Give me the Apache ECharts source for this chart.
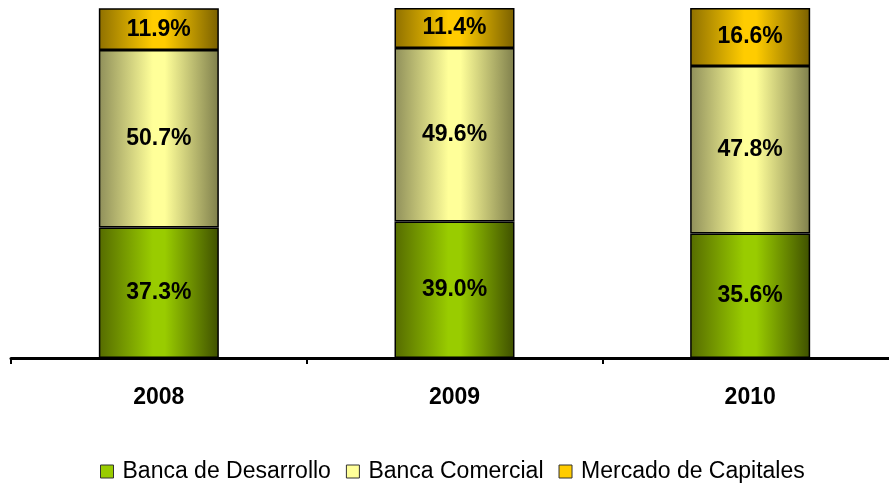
<!DOCTYPE html>
<html>
<head>
<meta charset="utf-8">
<script src="https://cdn.jsdelivr.net/npm/echarts@6/dist/echarts.min.js"></script>
<style>
html, body { margin: 0; padding: 0; background: #fff; overflow: hidden; }
#main { width: 898px; height: 483px; }
</style>
</head>
<body>
<div id="main"></div>
<script>
var years = ['2008', '2009', '2010'];
var desarrollo = [37.3, 39.0, 35.6];
var comercial = [50.7, 49.6, 47.8];
var capitales = [11.9, 11.4, 16.6];

function grad(edgeL, mid, edgeR) {
	return new echarts.graphic.LinearGradient(0, 0, 1, 0, [
		{offset: 0, color: edgeL},
		{offset: 0.45, color: mid},
		{offset: 0.55, color: mid},
		{offset: 1, color: edgeR}
	]);
}

function makeSeries(name, data, color) {
	return {
		name: name,
		type: 'bar',
		stack: 'total',
		barWidth: 120,
		data: data,
		itemStyle: {color: color, borderColor: '#000', borderWidth: 1.5},
		label: {
			show: true,
			position: 'inside',
			formatter: function (p) { return p.value.toFixed(1) + '%'; },
			color: '#000',
			fontFamily: 'Liberation Sans, Arial',
			fontWeight: 'bold',
			fontSize: 23
		}
	};
}

var chart = echarts.init(document.getElementById('main'));

chart.setOption({
	animation: false,
	grid: {left: 11, top: 8, right: 0, bottom: 125},
	legend: {
		left: 95,
		top: 455,
		icon: 'rect',
		itemWidth: 13,
		itemHeight: 13,
		itemGap: 15,
		textStyle: {fontFamily: 'Liberation Sans, Arial', fontSize: 23, color: '#000', padding: [0, 0, 0, 4]},
		data: [
			{name: 'Banca de Desarrollo', itemStyle: {color: '#99cc00', borderColor: '#333', borderWidth: 1}},
			{name: 'Banca Comercial', itemStyle: {color: '#ffff99', borderColor: '#333', borderWidth: 1}},
			{name: 'Mercado de Capitales', itemStyle: {color: '#ffcc00', borderColor: '#333', borderWidth: 1}}
		]
	},
	xAxis: {
		type: 'category',
		data: years,
		axisLine: {lineStyle: {color: '#000', width: 3}},
		axisTick: {show: true, length: 6, lineStyle: {color: '#000', width: 2}},
		axisLabel: {
			margin: 28,
			color: '#000',
			fontFamily: 'Liberation Sans, Arial',
			fontWeight: 'bold',
			fontSize: 23
		}
	},
	yAxis: {
		type: 'value',
		min: 0,
		max: 100,
		show: false,
		splitLine: {show: false}
	},
	series: [
		makeSeries('Banca de Desarrollo', desarrollo, grad('#556b00', '#99cc00', '#3f5000')),
		makeSeries('Banca Comercial', comercial, grad('#8f8f5a', '#ffff99', '#7f7f4c')),
		makeSeries('Mercado de Capitales', capitales, grad('#8f7000', '#ffcc00', '#7a6000'))
	]
});
</script>
</body>
</html>
